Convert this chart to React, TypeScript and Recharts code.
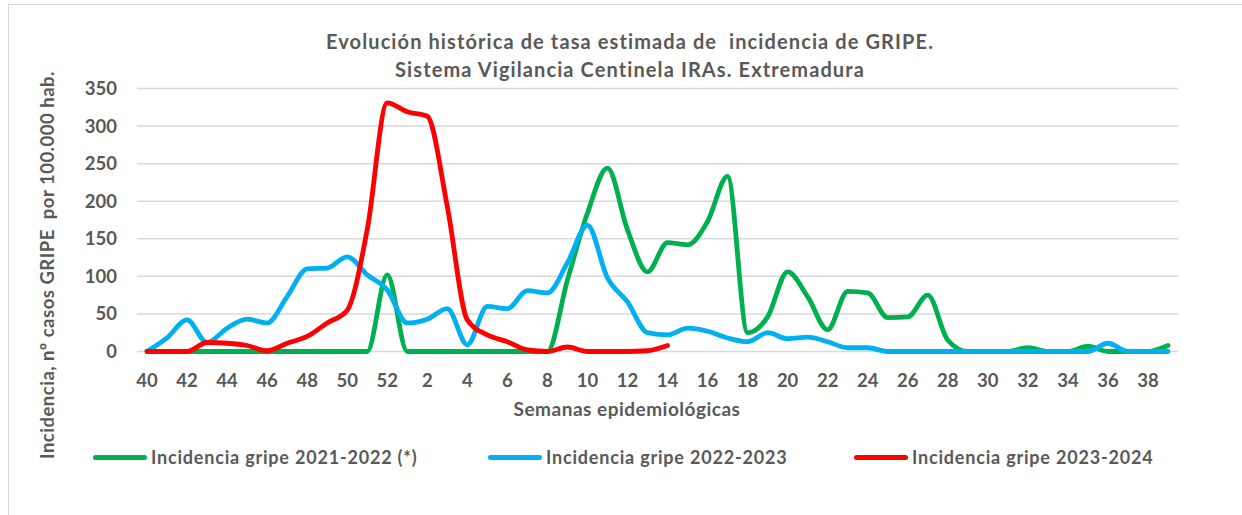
import { LineChart, Line, XAxis, YAxis, CartesianGrid } from 'recharts';

const weeks = [
  '40', '41', '42', '43', '44', '45', '46', '47', '48', '49', '50', '51', '52',
  '1', '2', '3', '4', '5', '6', '7', '8', '9', '10', '11', '12', '13', '14', '15', '16', '17', '18', '19',
  '20', '21', '22', '23', '24', '25', '26', '27', '28', '29', '30', '31', '32', '33', '34', '35', '36',
  '37', '38', '39',
];

const gripe2122 = [
  0, 0, 0, 0, 0, 0, 0, 0, 0, 0, 0, 0, 102,
  0, 0, 0, 0, 0, 0, 0, 0, 95, 184, 244, 162, 106, 145, 142, 173, 233, 25, 46,
  106, 73, 29, 80, 78, 45, 46, 75, 15, 0, 0, 0, 5, 0, 0, 7, 0,
  0, 0, 8,
];

const gripe2223 = [
  0, 18, 42, 12, 31, 43, 38, 73, 110, 111, 126, 102, 82,
  38, 43, 57, 9, 60, 57, 81, 78, 118, 168, 98, 66, 25, 22, 31, 27, 18, 13, 25,
  17, 19, 13, 5, 5, 0, 0, 0, 0, 0, 0, 0, 0, 0, 0, 0, 11,
  0, 0, 0,
];

const gripe2324 = [
  0, 0, 0, 12, 11, 8, 1, 11, 20, 38, 55, 162, 331,
  319, 313, 193, 42, 22, 13, 2, 0, 6, 0, 0, 0, 1, 8,
];

const yTicks = [0, 50, 100, 150, 200, 250, 300, 350];

const series = [
  { key: 'g2122', name: 'Incidencia gripe 2021-2022 (*)', color: '#00B050' },
  { key: 'g2223', name: 'Incidencia gripe 2022-2023', color: '#00B0F0' },
  { key: 'g2324', name: 'Incidencia gripe 2023-2024', color: '#FF0000' },
];

const data = weeks.map((w, i) => ({
  week: w,
  g2122: gripe2122[i],
  g2223: gripe2223[i],
  g2324: i < gripe2324.length ? gripe2324[i] : null,
}));

const FONT = 'Lato, "Open Sans", sans-serif';
const GREY = '#595959';

export default function App() {
  return (
    <div
      style={{
        position: 'fixed',
        left: 0,
        top: 0,
        width: 1242,
        height: 515,
        background: '#fff',
        fontFamily: FONT,
        fontWeight: 700,
        color: GREY,
        overflow: 'hidden',
      }}
    >
      {/* chart frame */}
      <div
        style={{
          position: 'absolute',
          left: 8,
          top: 4,
          width: 1260,
          height: 540,
          borderLeft: '1.5px solid #d9d9d9',
          borderTop: '1.5px solid #d9d9d9',
        }}
      />
      <div
        style={{
          position: 'absolute',
          left: 0,
          width: 1260,
          top: 27,
          textAlign: 'center',
          fontSize: 20,
          letterSpacing: 1.1,
          lineHeight: '28px',
          whiteSpace: 'pre',
        }}
      >
        {'Evolución histórica de tasa estimada de  incidencia de GRIPE.\nSistema Vigilancia Centinela IRAs. Extremadura'}
      </div>
      <div
        style={{
          position: 'absolute',
          left: 47,
          top: 265,
          transform: 'translate(-50%, -50%) rotate(-90deg)',
          fontSize: 18.5,
          letterSpacing: 0.5,
          whiteSpace: 'pre',
        }}
      >
        Incidencia, nº casos GRIPE  por 100.000 hab.
      </div>
      <div
        style={{
          position: 'absolute',
          left: 627,
          top: 408,
          transform: 'translate(-50%, -50%)',
          fontSize: 19,
          letterSpacing: 0.5,
          whiteSpace: 'nowrap',
        }}
      >
        Semanas epidemiológicas
      </div>

      <LineChart
        width={1242}
        height={515}
        data={data}
        margin={{ top: 88.5, right: 64, bottom: 123.5, left: 0 }}
      >
        <CartesianGrid vertical={false} stroke="#d9d9d9" strokeWidth={1.5} />
        <XAxis
          dataKey="week"
          interval={1}
          axisLine={false}
          tickLine={false}
          tickSize={6}
          tickMargin={16}
          height={40}
          padding={{ left: 10, right: 10 }}
          tick={{ fill: GREY, fontSize: 18.5, fontWeight: 700, fontFamily: FONT }}
        />
        <YAxis
          domain={[0, 350]}
          ticks={yTicks}
          width={137}
          axisLine={false}
          tickLine={false}
          tickSize={6}
          tickMargin={14}
          tick={{ fill: GREY, fontSize: 18.5, fontWeight: 700, fontFamily: FONT }}
        />
        {series.map((s) => (
          <Line
            key={s.key}
            type="monotone"
            dataKey={s.key}
            name={s.name}
            stroke={s.color}
            strokeWidth={4.8}
            strokeLinecap="round"
            strokeLinejoin="round"
            dot={false}
            activeDot={false}
            connectNulls={false}
            isAnimationActive={false}
          />
        ))}
      </LineChart>

      {/* legend */}
      {series.map((s, i) => (
        <div
          key={s.key}
          style={{
            position: 'absolute',
            left: [93, 488, 854][i],
            top: 446,
            display: 'flex',
            alignItems: 'center',
            fontSize: 18,
            letterSpacing: 0.8,
            whiteSpace: 'nowrap',
          }}
        >
          <span
            style={{
              display: 'inline-block',
              width: 54,
              height: 5,
              borderRadius: 3,
              background: s.color,
              marginRight: 4,
            }}
          />
          {s.name}
        </div>
      ))}
    </div>
  );
}
